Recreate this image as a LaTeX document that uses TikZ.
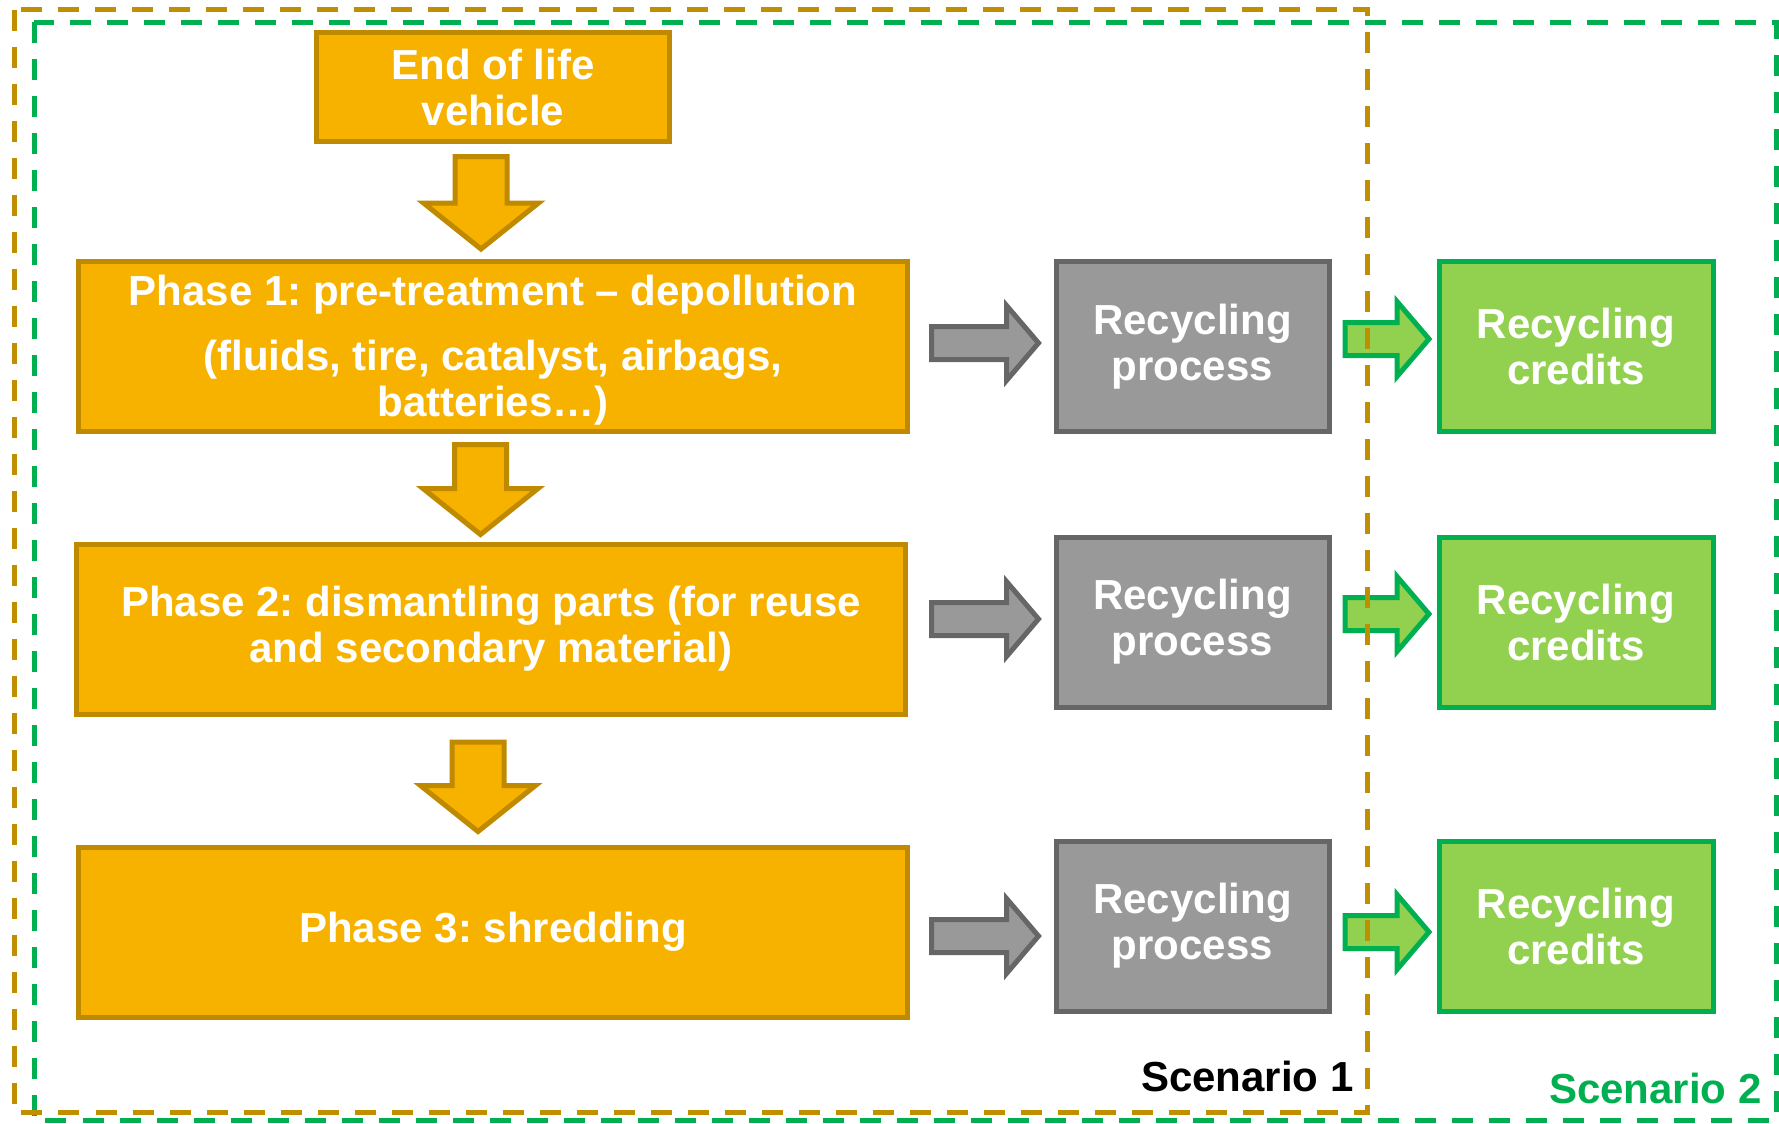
\documentclass[tikz,border=0pt]{standalone}
\usepackage{fontspec}
\setmainfont{Liberation Sans}
\usetikzlibrary{calc}
\frenchspacing

\definecolor{ambfill}{HTML}{F7B200}
\definecolor{ambline}{HTML}{BF8A00}
\definecolor{greyfill}{HTML}{999999}
\definecolor{greyline}{HTML}{666666}
\definecolor{leaffill}{HTML}{92D050}
\definecolor{leafline}{HTML}{00B050}
\definecolor{frameline}{HTML}{BF8F00}

\tikzset{
  box/.style={draw, line width=2.5pt, inner sep=0pt, align=center, text=white,
    font=\bfseries\fontsize{21}{23}\selectfont},
  phasebox/.style={box, fill=ambfill, draw=ambline, minimum width=414.5pt, minimum height=85pt},
  procbox/.style={box, fill=greyfill, draw=greyline, minimum width=136.5pt, minimum height=85pt},
  creditbox/.style={box, fill=leaffill, draw=leafline, minimum width=137pt, minimum height=85pt},
  % block arrow pointing down, drawn from the start point to the target's height
  downblock/.style={line width=2.5pt, fill=ambfill, draw=ambline,
    to path={let \p1=(\tikztostart), \p2=(\tikztotarget) in
      (\x1-13pt,\y1) -- (\x1-13pt,\y2+23pt) -- (\x1-28.75pt,\y2+23pt) -- (\x1,\y2)
      -- (\x1+28.75pt,\y2+23pt) -- (\x1+13pt,\y2+23pt) -- (\x1+13pt,\y1) -- cycle}},
  % block arrow pointing right, at the target's height
  rightblock/.style={line width=2.5pt,
    to path={let \p1=(\tikztostart), \p2=(\tikztotarget) in
      (\x1,\y2-8.25pt) -- (\x2-16pt,\y2-8.25pt) -- (\x2-16pt,\y2-18.75pt) -- (\x2,\y2)
      -- (\x2-16pt,\y2+18.75pt) -- (\x2-16pt,\y2+8.25pt) -- (\x1,\y2+8.25pt) -- cycle}},
  greyarrow/.style={rightblock, fill=greyfill, draw=greyline},
  leafarrow/.style={rightblock, fill=leaffill, draw=leafline},
  frameone/.style={draw=frameline, line width=2.5pt, dash pattern=on 10.5pt off 8pt},
  frametwo/.style={draw=leafline, line width=2.5pt, dash pattern=on 10.5pt off 8pt},
  tag/.style={inner sep=0pt, anchor=base east, font=\bfseries\fontsize{21}{23}\selectfont},
}

\begin{document}
\begin{tikzpicture}[x=0.5pt, y=-0.5pt]
\useasboundingbox (0,0) rectangle (1779,1124);

% outer frame: scenario 2
\coordinate (s2nw) at (34,22);
\coordinate (s2se) at (1776,1120.5);
\draw[frametwo] (s2nw) rectangle (s2se);

% dismantling chain
\node[phasebox, minimum width=176.5pt, minimum height=54.5pt] (eol) at (493,87) {End of life\\vehicle};
\node[phasebox] (ph1) at (493,346.5) {\rule{0pt}{18.5pt}Phase 1: pre-treatment -- depollution\\[9.5pt](fluids, tire, catalyst, airbags,\\batteries…)};
\node[phasebox] (ph2) at (491,629) {Phase 2: dismantling parts (for reuse\\and secondary material)};
\node[phasebox] (ph3) at (493,932) {Phase 3: shredding};

% recycling processes
\node[procbox] (rp1) at (1192.5,346.5) {Recycling\\process};
\node[procbox] (rp2) at (1192.5,622) {Recycling\\process};
\node[procbox] (rp3) at (1192.5,926) {Recycling\\process};

% recycling credits
\node[creditbox] (cr1) at (1576,346.5) {Recycling\\credits};
\node[creditbox] (cr2) at (1576,622) {Recycling\\credits};
\node[creditbox] (cr3) at (1576,926) {Recycling\\credits};

% downward flow
\draw[downblock] ([xshift=-6pt,yshift=-6.25pt]eol.south) to ([yshift=5pt]ph1.north);
\draw[downblock] ([xshift=-6.25pt,yshift=-5.25pt]ph1.south) to ([yshift=3.5pt]ph2.north);
\draw[downblock] ([xshift=-6.5pt,yshift=-12.75pt]ph2.south) to ([yshift=6.5pt]ph3.north);

% phases to processes
\draw[greyarrow] ([xshift=10.75pt]ph1.east) to ([xshift=-7.5pt,yshift=1.75pt]rp1.west);
\draw[greyarrow] ([xshift=11.75pt]ph2.east) to ([xshift=-7.5pt,yshift=1.5pt]rp2.west);
\draw[greyarrow] ([xshift=10.75pt]ph3.east) to ([xshift=-7.5pt,yshift=-5pt]rp3.west);

% processes to credits
\draw[leafarrow] ([xshift=6.75pt]rp1.east) to ([xshift=-3.75pt,yshift=3.75pt]cr1.west);
\draw[leafarrow] ([xshift=6.75pt]rp2.east) to ([xshift=-3.75pt,yshift=4pt]cr2.west);
\draw[leafarrow] ([xshift=6.75pt]rp3.east) to ([xshift=-3.75pt,yshift=-3pt]cr3.west);

% inner frame: scenario 1
\coordinate (s1nw) at (14.5,9.5);
\coordinate (s1se) at (1367,1112.5);
\draw[frameone] (s1nw) rectangle (s1se);

% frame labels
\node[tag, text=black] (tag1) at (1354,1091) {Scenario 1};
\node[tag, text=leafline] (tag2) at (1762,1103) {Scenario 2};
\end{tikzpicture}
\end{document}
